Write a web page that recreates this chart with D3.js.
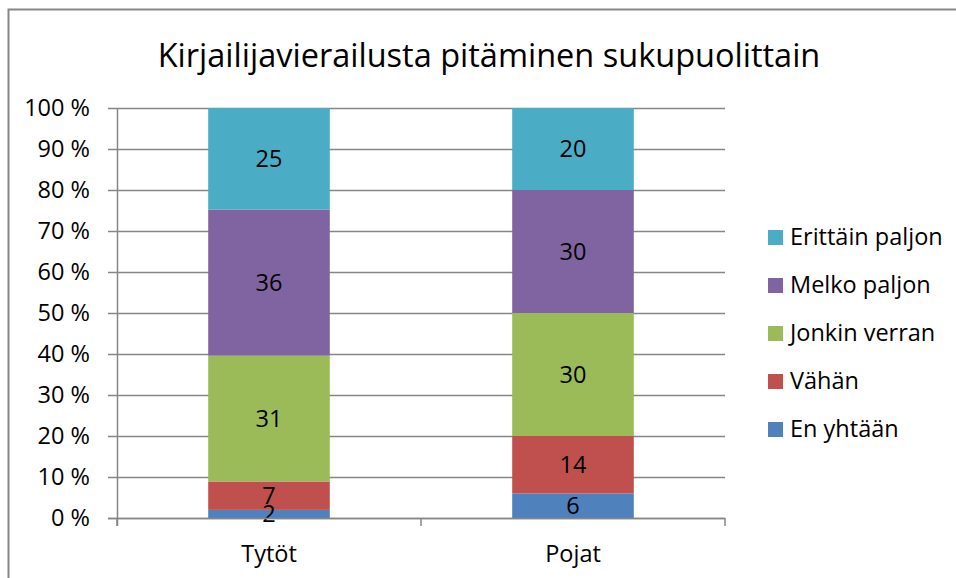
<!DOCTYPE html>
<html>
<head>
<meta charset="utf-8">
<script src="https://cdn.jsdelivr.net/npm/d3@7"></script>
<style>
  body { margin: 0; background: #fff; }
  svg text { font-family: "Open Sans", sans-serif; fill: #000; }
</style>
</head>
<body>
<div class="chart"></div>
<script>
// data
var categories = ["Tytöt", "Pojat"];
var seriesNames = ["En yhtään", "Vähän", "Jonkin verran", "Melko paljon", "Erittäin paljon"];
var seriesColors = ["#4F81BD", "#C0504D", "#9BBB59", "#8064A2", "#4BACC6"];
var enYhtaan = [2, 6];
var vahan = [7, 14];
var jonkinVerran = [31, 30];
var melkoPaljon = [36, 30];
var erittainPaljon = [25, 20];
var yTicks = [0, 10, 20, 30, 40, 50, 60, 70, 80, 90, 100];

var seriesValues = [enYhtaan, vahan, jonkinVerran, melkoPaljon, erittainPaljon];

var W = 956, H = 578;
var svg = d3.select(".chart").append("svg")
  .attr("width", W)
  .attr("height", H);

// outer chart border
svg.append("rect")
  .attr("x", 8.5).attr("y", 9.5)
  .attr("width", 1000).attr("height", 1000)
  .attr("fill", "#fff")
  .attr("stroke", "#868686")
  .attr("stroke-width", 2);

svg.append("text")
  .attr("x", 489).attr("y", 67)
  .attr("text-anchor", "middle")
  .attr("font-size", "32.5px")
  .text("Kirjailijavierailusta pitäminen sukupuolittain");

var x = d3.scaleBand().domain(categories).range([117, 725]);
var y = d3.scaleLinear().domain([0, 100]).range([518, 108]);

// gridlines
svg.append("g")
  .selectAll("line")
  .data(yTicks)
  .enter().append("line")
  .attr("x1", 108).attr("x2", 725)
  .attr("y1", function (d) { return y(d) + 0.5; })
  .attr("y2", function (d) { return y(d) + 0.5; })
  .attr("stroke", "#868686")
  .attr("stroke-width", 1.5);

// y labels
svg.append("g")
  .selectAll("text")
  .data(yTicks)
  .enter().append("text")
  .attr("x", 90)
  .attr("y", function (d) { return y(d); })
  .attr("dy", "0.36em")
  .attr("text-anchor", "end")
  .attr("font-size", "23.5px")
  .text(function (d) { return d + " %"; });

// build stacked table (100 % stacked)
var table = categories.map(function (c, i) {
  var row = { cat: c };
  seriesNames.forEach(function (s, j) { row[s] = seriesValues[j][i]; });
  return row;
});
var stack = d3.stack().keys(seriesNames).offset(d3.stackOffsetExpand);
var stacked = stack(table);

var barW = x.bandwidth() * 0.4;
var layers = svg.append("g").selectAll("g")
  .data(stacked)
  .enter().append("g")
  .attr("fill", function (d, i) { return seriesColors[i]; });

layers.selectAll("rect")
  .data(function (d) { return d; })
  .enter().append("rect")
  .attr("x", function (d) { return x(d.data.cat) + (x.bandwidth() - barW) / 2; })
  .attr("width", barW)
  .attr("y", function (d) { return y(d[1] * 100); })
  .attr("height", function (d) { return y(d[0] * 100) - y(d[1] * 100); });

// value labels
stacked.forEach(function (layer) {
  svg.append("g").selectAll("text")
    .data(layer)
    .enter().append("text")
    .attr("x", function (d) { return x(d.data.cat) + x.bandwidth() / 2; })
    .attr("y", function (d) { return y((d[0] + d[1]) * 50); })
    .attr("dy", "0.36em")
    .attr("text-anchor", "middle")
    .attr("font-size", "23.5px")
    .text(function (d) { return d.data[layer.key]; });
});

// axes lines
svg.append("line")
  .attr("x1", 117.5).attr("x2", 117.5)
  .attr("y1", 108).attr("y2", 526)
  .attr("stroke", "#868686").attr("stroke-width", 1.5);
svg.append("line")
  .attr("x1", 108).attr("x2", 725)
  .attr("y1", 518.5).attr("y2", 518.5)
  .attr("stroke", "#868686").attr("stroke-width", 1.5);
var catEdges = [x.range()[0]].concat(categories.map(function (c) { return x(c) + x.bandwidth(); }));
svg.append("g").selectAll("line")
  .data(catEdges)
  .enter().append("line")
  .attr("x1", function (d) { return d; })
  .attr("x2", function (d) { return d; })
  .attr("y1", 518).attr("y2", 526)
  .attr("stroke", "#868686").attr("stroke-width", 1.5);

// x labels
svg.append("g").selectAll("text")
  .data(categories)
  .enter().append("text")
  .attr("x", function (d) { return x(d) + x.bandwidth() / 2; })
  .attr("y", 562)
  .attr("text-anchor", "middle")
  .attr("font-size", "23.5px")
  .text(function (d) { return d; });

// legend (reverse order, top is last series)
var legendNames = seriesNames.slice().reverse();
var legendColors = seriesColors.slice().reverse();
var legend = svg.append("g").selectAll("g")
  .data(legendNames)
  .enter().append("g")
  .attr("transform", function (d, i) { return "translate(768," + (237 + i * 48) + ")"; });
legend.append("rect")
  .attr("x", 0).attr("y", -7)
  .attr("width", 15).attr("height", 15)
  .attr("fill", function (d, i) { return legendColors[i]; });
legend.append("text")
  .attr("x", 22).attr("y", 0)
  .attr("dy", "0.36em")
  .attr("font-size", "23.5px")
  .text(function (d) { return d; });
</script>
</body>
</html>
